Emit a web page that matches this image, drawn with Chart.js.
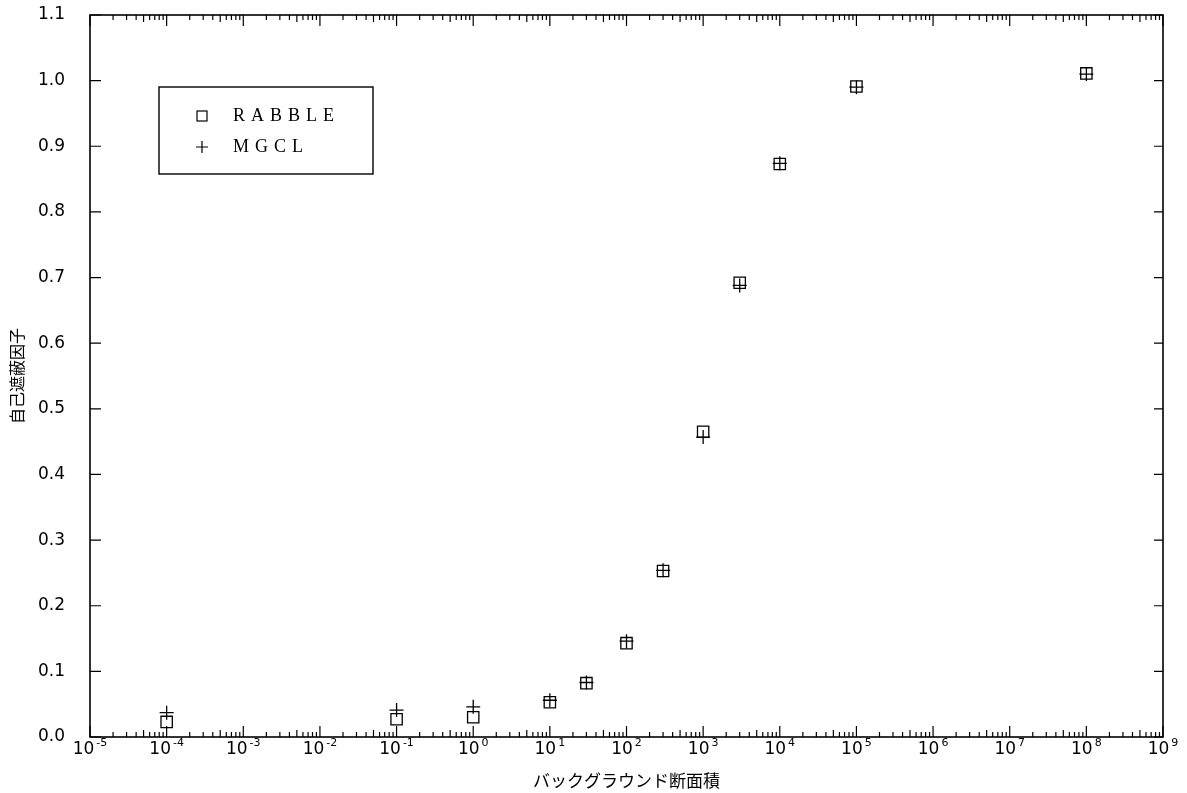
<!DOCTYPE html>
<html lang="ja">
<head>
    <meta charset="UTF-8">
    <title>自己遮蔽因子</title>
    <script src="https://cdn.jsdelivr.net/npm/chart.js"></script>
    <style>
        body {
            margin: 0;
            background-color: #fff;
        }
        .chart-box {
            width: 1187px;
            height: 793px;
        }
    </style>
</head>
<body>
    <div class="chart-box">
        <canvas id="shieldChart"></canvas>
    </div>

    <script>
        // データ
        const bgXs = [1e-4, 1e-1, 1, 10, 30, 100, 300, 1000, 3000, 1e4, 1e5, 1e8];
        const rabbleY = [0.023, 0.027, 0.030, 0.053, 0.082, 0.143, 0.253, 0.465, 0.692, 0.873, 0.991, 1.011];
        const mgclY = [0.037, 0.041, 0.046, 0.056, 0.083, 0.146, 0.254, 0.457, 0.688, 0.874, 0.990, 1.010];
        const xExps = [-5, -4, -3, -2, -1, 0, 1, 2, 3, 4, 5, 6, 7, 8, 9];
        const yTicks = [0, 0.1, 0.2, 0.3, 0.4, 0.5, 0.6, 0.7, 0.8, 0.9, 1.0, 1.1];
        const seriesNames = ['RABBLE', 'MGCL'];

        const toPoints = (xs, ys) => xs.map((x, i) => ({ x: x, y: ys[i] }));

        // 内向きの目盛り・枠・x ラベル・凡例
        const framePlugin = {
            id: 'frame',
            afterDraw(chart) {
                const ctx = chart.ctx;
                const a = chart.chartArea;
                const xs = chart.scales.x;
                const ys = chart.scales.y;
                ctx.save();
                ctx.strokeStyle = '#000';
                ctx.lineWidth = 1.6;
                ctx.strokeRect(a.left, a.top, a.right - a.left, a.bottom - a.top);

                ctx.lineWidth = 1.2;
                ctx.beginPath();
                xExps.forEach(e => {
                    const px = xs.getPixelForValue(Math.pow(10, e));
                    ctx.moveTo(px, a.bottom); ctx.lineTo(px, a.bottom - 11);
                    ctx.moveTo(px, a.top); ctx.lineTo(px, a.top + 11);
                    if (e < 9) {
                        for (let m = 2; m <= 9; m++) {
                            const mx = xs.getPixelForValue(m * Math.pow(10, e));
                            const len = m === 5 ? 7 : 5;
                            ctx.moveTo(mx, a.bottom); ctx.lineTo(mx, a.bottom - len);
                            ctx.moveTo(mx, a.top); ctx.lineTo(mx, a.top + len);
                        }
                    }
                });
                yTicks.forEach(v => {
                    const py = ys.getPixelForValue(v);
                    ctx.moveTo(a.left, py); ctx.lineTo(a.left + 11, py);
                    ctx.moveTo(a.right, py); ctx.lineTo(a.right - 9, py);
                });
                ctx.stroke();

                // x 軸ラベル 10^n
                ctx.fillStyle = '#000';
                ctx.textBaseline = 'alphabetic';
                ctx.textAlign = 'left';
                xExps.forEach(e => {
                    const px = xs.getPixelForValue(Math.pow(10, e));
                    const exp = String(e);
                    ctx.font = '17px "DejaVu Sans"';
                    const wb = ctx.measureText('10').width;
                    ctx.font = '11px "DejaVu Sans"';
                    const we = ctx.measureText(exp).width;
                    const x0 = px - (wb + 2 + we) / 2;
                    ctx.font = '17px "DejaVu Sans"';
                    ctx.fillText('10', x0, a.bottom + 17);
                    ctx.font = '11px "DejaVu Sans"';
                    ctx.fillText(exp, x0 + wb + 2, a.bottom + 9);
                });

                // 凡例
                const lx = 159, ly = 87, lw = 214, lh = 87;
                ctx.lineWidth = 1.4;
                ctx.strokeRect(lx, ly, lw, lh);
                ctx.lineWidth = 1.2;
                ctx.fillStyle = '#fff';
                ctx.fillRect(197, 111, 10, 10);
                ctx.strokeRect(197, 111, 10, 10);
                ctx.beginPath();
                ctx.moveTo(196, 147); ctx.lineTo(208, 147);
                ctx.moveTo(202, 141); ctx.lineTo(202, 153);
                ctx.stroke();
                ctx.fillStyle = '#000';
                ctx.font = '18px "Liberation Serif"';
                ctx.letterSpacing = '6px';
                ctx.textBaseline = 'middle';
                ctx.fillText(seriesNames[0], 233, 116);
                ctx.fillText(seriesNames[1], 233, 147);
                ctx.restore();
            }
        };

        const chartCtx = document.getElementById('shieldChart').getContext('2d');
        new Chart(chartCtx, {
            type: 'scatter',
            data: {
                datasets: [{
                    label: seriesNames[0],
                    data: toPoints(bgXs, rabbleY),
                    pointStyle: 'rect',
                    pointRadius: 8,
                    backgroundColor: '#fff',
                    borderColor: '#000',
                    borderWidth: 1.3,
                    order: 2
                },
                {
                    label: seriesNames[1],
                    data: toPoints(bgXs, mgclY),
                    pointStyle: 'cross',
                    pointRadius: 7,
                    borderColor: '#000',
                    borderWidth: 1.3,
                    order: 1
                }]
            },
            options: {
                responsive: true,
                maintainAspectRatio: false,
                animation: false,
                layout: {
                    padding: { top: 15, right: 24, left: 0, bottom: 0 }
                },
                plugins: {
                    legend: { display: false },
                    tooltip: { enabled: false }
                },
                scales: {
                    x: {
                        type: 'logarithmic',
                        min: 1e-5,
                        max: 1e9,
                        grid: { display: false },
                        border: { display: false },
                        ticks: { display: false },
                        afterFit: s => {
                            s.height = 56;
                            s.paddingLeft = 0;
                            s.paddingRight = 0;
                        },
                        title: {
                            display: true,
                            text: 'バックグラウンド断面積',
                            color: '#000',
                            font: { family: '"Noto Sans CJK JP"', size: 17 },
                            padding: { top: 0, bottom: 2 }
                        }
                    },
                    y: {
                        min: 0,
                        max: 1.1,
                        grid: { display: false },
                        border: { display: false },
                        ticks: {
                            stepSize: 0.1,
                            padding: 17,
                            color: '#000',
                            font: { family: '"DejaVu Sans"', size: 17 },
                            callback: v => v.toFixed(1)
                        },
                        afterFit: s => {
                            s.width = 90;
                            s.paddingTop = 0;
                            s.paddingBottom = 0;
                        },
                        title: {
                            display: true,
                            text: '自己遮蔽因子',
                            color: '#000',
                            font: { family: '"Noto Sans CJK JP"', size: 16 },
                            padding: { top: 7, bottom: 0 }
                        }
                    }
                }
            },
            plugins: [framePlugin]
        });
    </script>
</body>
</html>
